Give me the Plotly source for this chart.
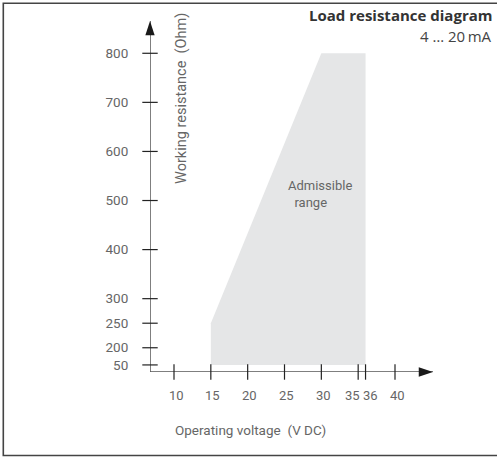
import plotly.graph_objects as go

# ---- data ----
voltage = [15, 15, 30, 36, 36]            # V DC, admissible region outline
resistance = [50, 250, 800, 800, 50]       # Ohm
x_ticks = [10, 15, 20, 25, 30, 35, 36, 40]
y_ticks = [50, 200, 250, 300, 400, 500, 600, 700, 800]

# broken y axis: values below 200 are compressed
def ydisp(v):
    return v if v >= 200 else 165 + (v - 50) * (200 - 165) / 150.0

W, H = 497, 457
L, R, T, B = 150, 61, 20, 85
X0, X1 = 6.742, 45.565
Y0, Y1 = 150.6, 867.8
X_TIP, Y_TIP = 45.16, 865.8

def px(xp):
    return (xp - L) / (W - L - R)

def py(yp):
    return (H - B - yp) / (H - T - B)

fig = go.Figure()

# admissible range
fig.add_trace(go.Scatter(
    x=voltage, y=[ydisp(v) for v in resistance], fill="toself",
    fillcolor="#e5e6e7", line=dict(width=0), mode="lines",
    hoverinfo="skip", showlegend=False))

# axis lines
fig.add_trace(go.Scatter(
    x=[X0, X0, X_TIP], y=[Y_TIP, Y0, Y0], mode="lines",
    line=dict(color="#555555", width=1.5), cliponaxis=False,
    hoverinfo="skip", showlegend=False))

# arrow heads
fig.add_trace(go.Scatter(
    x=[X0, X_TIP], y=[Y_TIP, Y0], mode="markers",
    marker=dict(symbol="arrow", angle=[0, 90], size=15, color="#1a1a1a",
                line=dict(width=0)),
    cliponaxis=False, hoverinfo="skip", showlegend=False))

# tick marks crossing axes
fig.add_trace(go.Scatter(
    x=x_ticks, y=[Y0] * len(x_ticks), mode="markers",
    marker=dict(symbol="line-ns", size=11, line=dict(color="#222222", width=1.2)),
    cliponaxis=False, hoverinfo="skip", showlegend=False))
fig.add_trace(go.Scatter(
    x=[X0] * len(y_ticks), y=[ydisp(v) for v in y_ticks], mode="markers",
    marker=dict(symbol="line-ew", size=11, line=dict(color="#222222", width=1.2)),
    cliponaxis=False, hoverinfo="skip", showlegend=False))

tickfont = dict(family="Roboto, sans-serif", size=13.5, color="#666666")
xtickfont = dict(family="Roboto, sans-serif", size=13, color="#666666")
labelfont = dict(family="Roboto, sans-serif", size=13, color="#666666")

# x tick labels as annotations (35/36 nudged apart, as in the reference)
x_shift = {35: -6, 36: 5}
x_label_ann = [
    dict(text=str(v), x=v, xref="x", y=py(395), yref="paper",
         xanchor="center", yanchor="middle", showarrow=False,
         xshift=x_shift.get(v, 2), font=xtickfont)
    for v in x_ticks
]

frame_path = "M {a},{b} L {c},{b} L {c},{d} L {a},{d}".format(
    a=px(497), b=py(3.3), c=px(3.3), d=py(455.5))

fig.update_layout(
    width=W, height=H,
    margin=dict(l=L, r=R, t=T, b=B, autoexpand=False),
    paper_bgcolor="white", plot_bgcolor="white",
    xaxis=dict(range=[X0, X1], showgrid=False, zeroline=False, showline=False,
               showticklabels=False, ticks="", automargin=False, fixedrange=True),
    yaxis=dict(range=[Y0, Y1], showgrid=False, zeroline=False, showline=False,
               tickmode="array", tickvals=[ydisp(v) for v in y_ticks],
               ticktext=[str(v) for v in y_ticks],
               ticks="outside", ticklen=18, tickcolor="rgba(0,0,0,0)",
               tickfont=tickfont, automargin=False, fixedrange=True),
    shapes=[dict(type="path", xref="paper", yref="paper", path=frame_path,
                 line=dict(color="#444444", width=1.6))],
    annotations=x_label_ann + [
        dict(text="<b>Load resistance diagram</b>", xref="paper", yref="paper",
             x=px(494), y=py(15), xanchor="right", yanchor="middle", showarrow=False,
             font=dict(family="Open Sans, sans-serif", size=15, color="#333333")),
        dict(text="4 … 20\u2009mA", xref="paper", yref="paper",
             x=px(494), y=py(36), xanchor="right", yanchor="middle", showarrow=False,
             font=dict(family="Open Sans, sans-serif", size=15, color="#444444")),
        dict(text="Working resistance\u00a0 (Ohm)", xref="paper", yref="paper",
             x=px(181), y=py(99), xanchor="center", yanchor="middle", textangle=-90,
             showarrow=False, font=dict(family="Roboto, sans-serif", size=14.5,
                                        color="#666666")),
        dict(text="Admissible<br>\u00a0\u00a0range", xref="paper", yref="paper",
             x=px(286), y=py(194), xanchor="left", yanchor="middle", align="left",
             showarrow=False, font=labelfont),
        dict(text="Operating voltage\u00a0 (V DC)", xref="paper", yref="paper",
             x=px(173), y=py(430), xanchor="left", yanchor="middle",
             showarrow=False, font=dict(family="Roboto, sans-serif", size=13.5,
                                        color="#666666")),
    ],
)

fig.write_html(
    "out.html",
    config={"displayModeBar": False},
    post_script="document.body.style.margin='0';document.body.style.overflow='hidden';",
)
